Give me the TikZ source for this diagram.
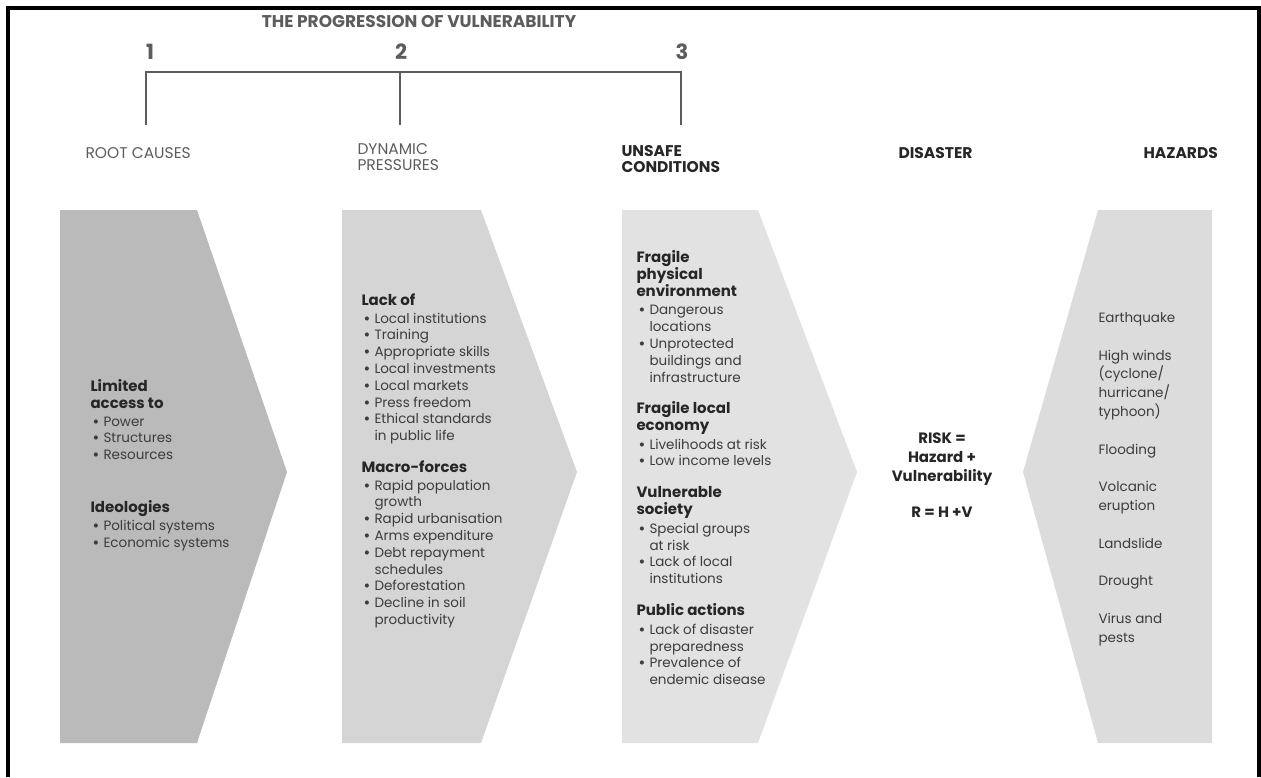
\documentclass[tikz,border=0pt]{standalone}
\usepackage{fontspec}
\setmainfont{Poppins}
\usepackage{xcolor}
\usepackage{tikz}

\definecolor{ink}{HTML}{262626}
\definecolor{body}{HTML}{3C3C3C}
\definecolor{soft}{HTML}{5C5C5C}
\definecolor{shade1}{HTML}{BABABA}
\definecolor{shade2}{HTML}{D5D5D5}
\definecolor{shade3}{HTML}{E2E2E2}
\definecolor{shade4}{HTML}{DCDCDC}

\newcommand{\bul}{\hspace*{2pt}\makebox[11pt][l]{\bfseries •}}
\newcommand{\cont}{\hspace*{13pt}}
\newcommand{\hd}[1]{{\fontsize{15}{16.8}\selectfont\bfseries\color{ink}#1}}

\begin{document}
\begin{tikzpicture}[
		x=1pt, y=-1pt,
		line width=1pt,
		frame/.style={line width=3.6pt, black},
		bracket/.style={soft, line width=1.2pt},
		stage num/.style={font=\fontsize{21}{21}\selectfont\bfseries, text=soft},
		stage label/.style={anchor=west, align=left, inner sep=0pt, text=soft,
			font=\fontsize{15.5}{15.5}\selectfont},
		stage bold/.style={stage label, text=ink, font=\fontsize{15.5}{16.5}\selectfont\bfseries},
		chev1/.style={fill=shade1},
		chev2/.style={fill=shade2},
		chev3/.style={fill=shade3},
		chev4/.style={fill=shade4},
		block/.style={anchor=north west, align=left, inner sep=0pt, text=body,
			font=\fontsize{13.5}{16.8}\selectfont},
		hazard list/.style={block, font=\fontsize{13.5}{18.8}\selectfont},
		risk/.style={anchor=north, align=center, inner sep=0pt, text=ink,
			font=\fontsize{15}{19}\selectfont\bfseries}
		]

	\useasboundingbox (0,0) rectangle (1261,777);

	% Frame
	\draw[frame] (8,777) -- (8,8) -- (1259,8) -- (1259,777);

	% Title and numbers
	\node[text=soft, font=\fontsize{17}{17}\selectfont\bfseries] (title) at (419,22) {THE PROGRESSION OF VULNERABILITY};
	\node[stage num] (n1) at (150,52) {1};
	\node[stage num] (n2) at (401,52) {2};
	\node[stage num] (n3) at (682,52) {3};

	% Bracket
	\coordinate (top1) at (146,72);
	\coordinate (top2) at (400,72);
	\coordinate (top3) at (681,72);
	\coordinate (foot1) at (146,125);
	\coordinate (foot2) at (400,125);
	\coordinate (foot3) at (681,125);
	\draw[bracket] (foot1) -- (top1) -- (top3) -- (foot3);
	\draw[bracket] (top2) -- (foot2);

	% Column labels
	\node[stage label] (rootlbl) at (85,153) {ROOT CAUSES};
	\node[stage label] (dynlbl) at (357,157) {DYNAMIC\\PRESSURES};
	\node[stage bold] (unsafelbl) at (621,159) {UNSAFE\\CONDITIONS};
	\node[stage bold] (disasterlbl) at (898,153) {DISASTER};
	\node[stage bold] (hazardslbl) at (1143,153) {HAZARDS};

	% Chevrons
	\fill[chev1] (60,210) -- (197,210) -- (287,472) -- (197,743) -- (60,743) -- cycle;
	\fill[chev2] (342,210) -- (481,210) -- (577,472) -- (481,743) -- (342,743) -- cycle;
	\fill[chev3] (622,210) -- (758,210) -- (857,472) -- (758,743) -- (622,743) -- cycle;
	\fill[chev4] (1098,210) -- (1212,210) -- (1212,743) -- (1098,743) -- (1023,472) -- cycle;

	% 1 Root causes
	\node[block] (limited) at (90,379) {\hd{Limited}\\\hd{access to}\\[1pt]
		\bul Power\\\bul Structures\\\bul Resources};
	\node[block] (ideol) at (90,500) {\hd{Ideologies}\\[1pt]
		\bul Political systems\\\bul Economic systems};

	% 2 Dynamic pressures
	\node[block] (lackof) at (361,293) {\hd{Lack of}\\[1pt]
		\bul Local institutions\\\bul Training\\\bul Appropriate skills\\
		\bul Local investments\\\bul Local markets\\\bul Press freedom\\
		\bul Ethical standards\\\cont in public life};
	\node[block] (macro) at (361,460) {\hd{Macro-forces}\\[1pt]
		\bul Rapid population\\\cont growth\\\bul Rapid urbanisation\\
		\bul Arms expenditure\\\bul Debt repayment\\\cont schedules\\
		\bul Deforestation\\\bul Decline in soil\\\cont productivity};

	% 3 Unsafe conditions
	\node[block] (fragphys) at (636,250) {\hd{Fragile}\\\hd{physical}\\\hd{environment}\\[2pt]
		\bul Dangerous\\\cont locations\\\bul Unprotected\\\cont buildings and\\\cont infrastructure};
	\node[block] (fragecon) at (636,401) {\hd{Fragile local}\\\hd{economy}\\[2pt]
		\bul Livelihoods at risk\\\bul Low income levels};
	\node[block] (vulsoc) at (636,486) {\hd{Vulnerable}\\\hd{society}\\[2pt]
		\bul Special groups\\\cont at risk\\\bul Lack of local\\\cont institutions};
	\node[block] (public) at (636,603) {\hd{Public actions}\\[2pt]
		\bul Lack of disaster\\\cont preparedness\\\bul Prevalence of\\\cont endemic disease};

	% Disaster
	\node[risk] (riskeq) at (942,432) {RISK =\\Hazard +\\Vulnerability\\[17pt]R = H +V};

	% Hazards
	\node[hazard list] (hazlist) at (1098,312) {Earthquake\\[18.8pt]
		High winds\\(cyclone/\\hurricane/\\typhoon)\\[18.8pt]
		Flooding\\[18.8pt]Volcanic\\eruption\\[18.8pt]
		Landslide\\[18.8pt]Drought\\[18.8pt]Virus and\\pests};

\end{tikzpicture}
\end{document}
